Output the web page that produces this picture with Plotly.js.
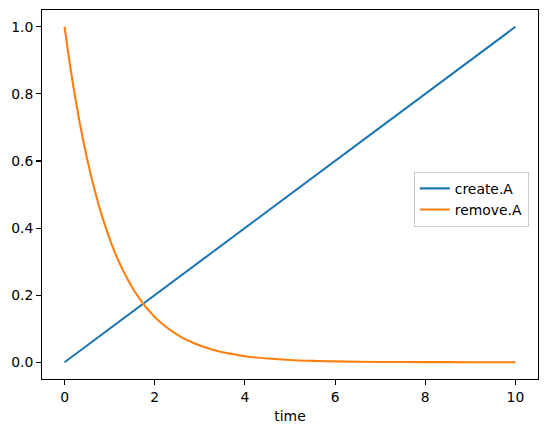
<!DOCTYPE html>
<html>
<head>
<meta charset="utf-8">
<script src="https://cdn.plot.ly/plotly-3.0.1.min.js"></script>
<style>html,body{margin:0;padding:0;background:#fff;}#chart{width:547px;height:432px;}</style>
</head>
<body>
<div id="chart"></div>
<script>
// time points
const time = [0, 0.1, 0.2, 0.3, 0.4, 0.5, 0.6, 0.7, 0.8, 0.9, 1.0, 1.1, 1.2, 1.3, 1.4, 1.5, 1.6, 1.7, 1.8, 1.9, 2.0,
              2.2, 2.4, 2.6, 2.8, 3.0, 3.25, 3.5, 3.75, 4.0, 4.5, 5.0, 5.5, 6.0, 7.0, 8.0, 9.0, 10.0];
// create.A values
const createA = [0, 0.01, 0.02, 0.03, 0.04, 0.05, 0.06, 0.07, 0.08, 0.09, 0.10, 0.11, 0.12, 0.13, 0.14, 0.15, 0.16, 0.17, 0.18, 0.19, 0.20,
                 0.22, 0.24, 0.26, 0.28, 0.30, 0.325, 0.35, 0.375, 0.40, 0.45, 0.50, 0.55, 0.60, 0.70, 0.80, 0.90, 1.00];
// remove.A values
const removeA = [1.0, 0.905, 0.819, 0.741, 0.670, 0.607, 0.549, 0.497, 0.449, 0.407, 0.368, 0.333, 0.301, 0.273, 0.247, 0.223, 0.202, 0.183, 0.165, 0.150, 0.135,
                 0.111, 0.091, 0.074, 0.061, 0.050, 0.039, 0.030, 0.024, 0.018, 0.011, 0.0067, 0.0041, 0.0025, 0.0009, 0.0003, 0.0001, 0.00005];
const seriesNames = ['create.A', 'remove.A'];
const xTicks = [0, 2, 4, 6, 8, 10];
const yTicks = [0.0, 0.2, 0.4, 0.6, 0.8, 1.0];

const font = {family: 'DejaVu Sans', size: 13.9, color: '#000'};

const traces = [
  {x: time, y: createA, name: seriesNames[0], type: 'scatter', mode: 'lines',
   line: {color: '#1f77b4', width: 2.1}},
  {x: time, y: removeA, name: seriesNames[1], type: 'scatter', mode: 'lines',
   line: {color: '#ff7f0e', width: 2.1, shape: 'spline', smoothing: 0.8}}
];

const axisCommon = {
  showgrid: false, zeroline: false, showline: true, mirror: true,
  linecolor: '#000', linewidth: 1.1, ticks: 'outside', ticklen: 4.9,
  tickwidth: 1.1, tickcolor: '#000', tickfont: font
};

const layout = {
  width: 547, height: 432,
  margin: {l: 42, r: 8.7, t: 9.5, b: 52.7},
  paper_bgcolor: '#fff', plot_bgcolor: '#fff',
  font: font,
  xaxis: Object.assign({}, axisCommon, {
    range: [-0.5, 10.5], tickvals: xTicks, ticktext: xTicks.map(String),
    title: {text: 'time', font: font, standoff: 7}
  }),
  yaxis: Object.assign({}, axisCommon, {
    range: [-0.05, 1.05], tickvals: yTicks, ticktext: yTicks.map(v => v.toFixed(1))
  }),
  showlegend: true,
  legend: {
    x: 0.7496, y: 0.5614, xanchor: 'left', yanchor: 'top',
    bgcolor: 'rgba(255,255,255,0.8)', bordercolor: '#cccccc', borderwidth: 1,
    font: font, itemwidth: 30, tracegroupgap: 0
  }
};

Plotly.newPlot('chart', traces, layout, {displayModeBar: false, staticPlot: true});
</script>
</body>
</html>
